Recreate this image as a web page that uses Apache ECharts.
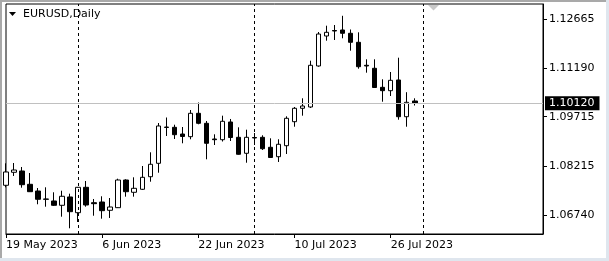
<!DOCTYPE html>
<html>
<head>
<meta charset="utf-8">
<script src="https://cdn.jsdelivr.net/npm/echarts@6/dist/echarts.min.js"></script>
<style>
html,body{margin:0;padding:0;background:#fff;}
#c{width:609px;height:261px;}
</style>
</head>
<body>
<div id="c"></div>
<script>
// Trading days (categories); the last ones are empty future slots (chart shift)
const dates = [
 '19 May 2023','22 May 2023','23 May 2023','24 May 2023','25 May 2023','26 May 2023','29 May 2023','30 May 2023','31 May 2023',
 '1 Jun 2023','2 Jun 2023','5 Jun 2023','6 Jun 2023','7 Jun 2023','8 Jun 2023','9 Jun 2023','12 Jun 2023','13 Jun 2023','14 Jun 2023','15 Jun 2023','16 Jun 2023','19 Jun 2023','20 Jun 2023','21 Jun 2023','22 Jun 2023','23 Jun 2023','26 Jun 2023','27 Jun 2023','28 Jun 2023','29 Jun 2023','30 Jun 2023',
 '3 Jul 2023','4 Jul 2023','5 Jul 2023','6 Jul 2023','7 Jul 2023','10 Jul 2023','11 Jul 2023','12 Jul 2023','13 Jul 2023','14 Jul 2023','17 Jul 2023','18 Jul 2023','19 Jul 2023','20 Jul 2023','21 Jul 2023','24 Jul 2023','25 Jul 2023','26 Jul 2023','27 Jul 2023','28 Jul 2023','31 Jul 2023',
 '1 Aug 2023','2 Aug 2023','3 Aug 2023','4 Aug 2023','7 Aug 2023','8 Aug 2023','9 Aug 2023','10 Aug 2023','11 Aug 2023','14 Aug 2023','15 Aug 2023','16 Aug 2023','17 Aug 2023','18 Aug 2023','21 Aug 2023','22 Aug 2023'
];
const opens  = [1.07639,1.08033,1.08072,1.07669,1.07466,1.07224,1.07164,1.07033,1.07285,1.06809,1.07578,1.07112,1.07133,1.06882,1.06961,1.07799,1.07427,1.07518,1.07899,1.08305,1.09389,1.09395,1.09192,1.09111,1.09819,1.09516,1.09041,1.09020,1.09556,1.09092,1.08608,1.09086,1.09092,1.08790,1.08505,1.08838,1.09565,1.09971,1.10010,1.11252,1.12160,1.12326,1.12342,1.12242,1.11969,1.11273,1.11182,1.10606,1.10504,1.10828,1.09716,1.10192];
const closes = [1.08042,1.08102,1.07657,1.07445,1.07215,1.07215,1.07033,1.07306,1.06840,1.07578,1.07042,1.07082,1.06870,1.06982,1.07799,1.07445,1.07548,1.07881,1.08275,1.09435,1.09404,1.09171,1.09117,1.09819,1.09516,1.08911,1.09020,1.09577,1.09086,1.08578,1.09092,1.09071,1.08747,1.08481,1.08881,1.09668,1.09971,1.10040,1.11273,1.12220,1.12272,1.12311,1.12242,1.11969,1.11230,1.11252,1.10600,1.10504,1.10818,1.09716,1.10152,1.10120];
const lows   = [1.07578,1.07921,1.07566,1.07436,1.07064,1.06991,1.07012,1.06688,1.06337,1.06528,1.06991,1.06718,1.06628,1.06649,1.06952,1.07294,1.07294,1.07497,1.07748,1.08020,1.09132,1.09041,1.08911,1.09032,1.09486,1.08426,1.08859,1.08965,1.08980,1.08566,1.08323,1.08859,1.08708,1.08466,1.08345,1.08587,1.09413,1.09747,1.09980,1.11230,1.12018,1.12039,1.12090,1.11715,1.11170,1.11049,1.10585,1.10170,1.10343,1.09625,1.09413,1.10055];
const highs  = [1.08305,1.08314,1.08193,1.08011,1.07557,1.07578,1.07427,1.07475,1.07385,1.07588,1.07769,1.07224,1.07306,1.07254,1.07839,1.07821,1.07881,1.08223,1.08638,1.09525,1.09692,1.09474,1.09404,1.09919,1.10146,1.09586,1.09183,1.09747,1.09647,1.09395,1.09323,1.09223,1.09153,1.09062,1.09032,1.09728,1.10010,1.10273,1.11412,1.12281,1.12472,1.12493,1.12772,1.12357,1.12272,1.11454,1.11454,1.10849,1.11070,1.11503,1.10458,1.10273];
const xTickLabels = ['19 May 2023','6 Jun 2023','22 Jun 2023','10 Jul 2023','26 Jul 2023'];
const yTickLabels = [1.06740,1.08215,1.09715,1.11190,1.12665];
const separators = ['1 Jun 2023','3 Jul 2023','1 Aug 2023'];
const currentPrice = 1.10120;
const symbolTitle = 'EURUSD,Daily';

const candles = dates.map((d,i) => i < opens.length ? [opens[i], closes[i], lows[i], highs[i]] : '-');
const FONT = 'DejaVu Sans';
const showX = (idx, val) => xTickLabels.indexOf(val) >= 0;

const chart = echarts.init(document.getElementById('c'), null, {renderer:'canvas'});
chart.setOption({
  animation: false,
  backgroundColor: '#ffffff',
  title: {
    text: symbolTitle, left: 23, top: 9, padding: 0,
    textStyle: {fontFamily: FONT, fontSize: 11, fontWeight: 'normal', color: '#000'}
  },
  grid: {left: 6, right: 66, top: 4, bottom: 27, show: true, borderColor: '#000', borderWidth: 1, backgroundColor: '#fff'},
  xAxis: {
    type: 'category', data: dates, boundaryGap: false,
    axisLine: {show: true, lineStyle: {color: '#000', width: 1}},
    axisTick: {show: true, interval: showX, length: 4, inside: false, lineStyle: {color: '#000'}},
    axisLabel: {interval: showX, align: 'left', margin: 6, color: '#000', fontFamily: FONT, fontSize: 11},
    splitLine: {show: false}
  },
  yAxis: {
    type: 'value', position: 'right', min: 1.06164, max: 1.13129, scale: true,
    axisLine: {show: true, lineStyle: {color: '#000', width: 1}},
    axisTick: {show: true, customValues: yTickLabels, length: 4, lineStyle: {color: '#000'}},
    axisLabel: {customValues: yTickLabels, margin: 6, color: '#000', fontFamily: FONT, fontSize: 11,
      formatter: v => v.toFixed(5)},
    splitLine: {show: false}
  },
  series: [{
    type: 'candlestick',
    data: candles,
    barWidth: 5,
    itemStyle: {color: '#ffffff', color0: '#000000', borderColor: '#000000', borderColor0: '#000000', borderWidth: 1},
    markLine: {
      silent: true, symbol: ['none','none'], animation: false, precision: 5,
      data: [
        {yAxis: currentPrice, lineStyle: {color: '#c0c0c0', type: 'solid', width: 1},
          label: {show: true, position: 'end', distance: 2, formatter: currentPrice.toFixed(5),
            backgroundColor: '#000', color: '#fff', fontFamily: FONT, fontSize: 11, padding: [1,5,1,4], lineHeight: 12}},
        ...separators.map(s => ({xAxis: s, lineStyle: {color: '#000', type: [3,3], width: 1}, label: {show: false}}))
      ]
    }
  }],
  graphic: [
    {type: 'polygon', shape: {points: [[9,12],[16,12],[12.5,16]]}, style: {fill: '#000'}, z: 100},
    {type: 'polygon', shape: {points: [[428,5],[439,5],[433.5,10.5]]}, style: {fill: '#c8c8c8'}, z: 100},
    {type: 'rect', shape: {x: 0, y: 0, width: 609, height: 2}, style: {fill: '#a9a9a9'}, z: 100},
    {type: 'rect', shape: {x: 0, y: 0, width: 2, height: 261}, style: {fill: '#a9a9a9'}, z: 100},
    {type: 'rect', shape: {x: 606, y: 0, width: 3, height: 261}, style: {fill: '#dfe6ee'}, z: 100},
    {type: 'rect', shape: {x: 0, y: 258, width: 609, height: 3}, style: {fill: '#dfe6ee'}, z: 100}
  ]
});
</script>
</body>
</html>
